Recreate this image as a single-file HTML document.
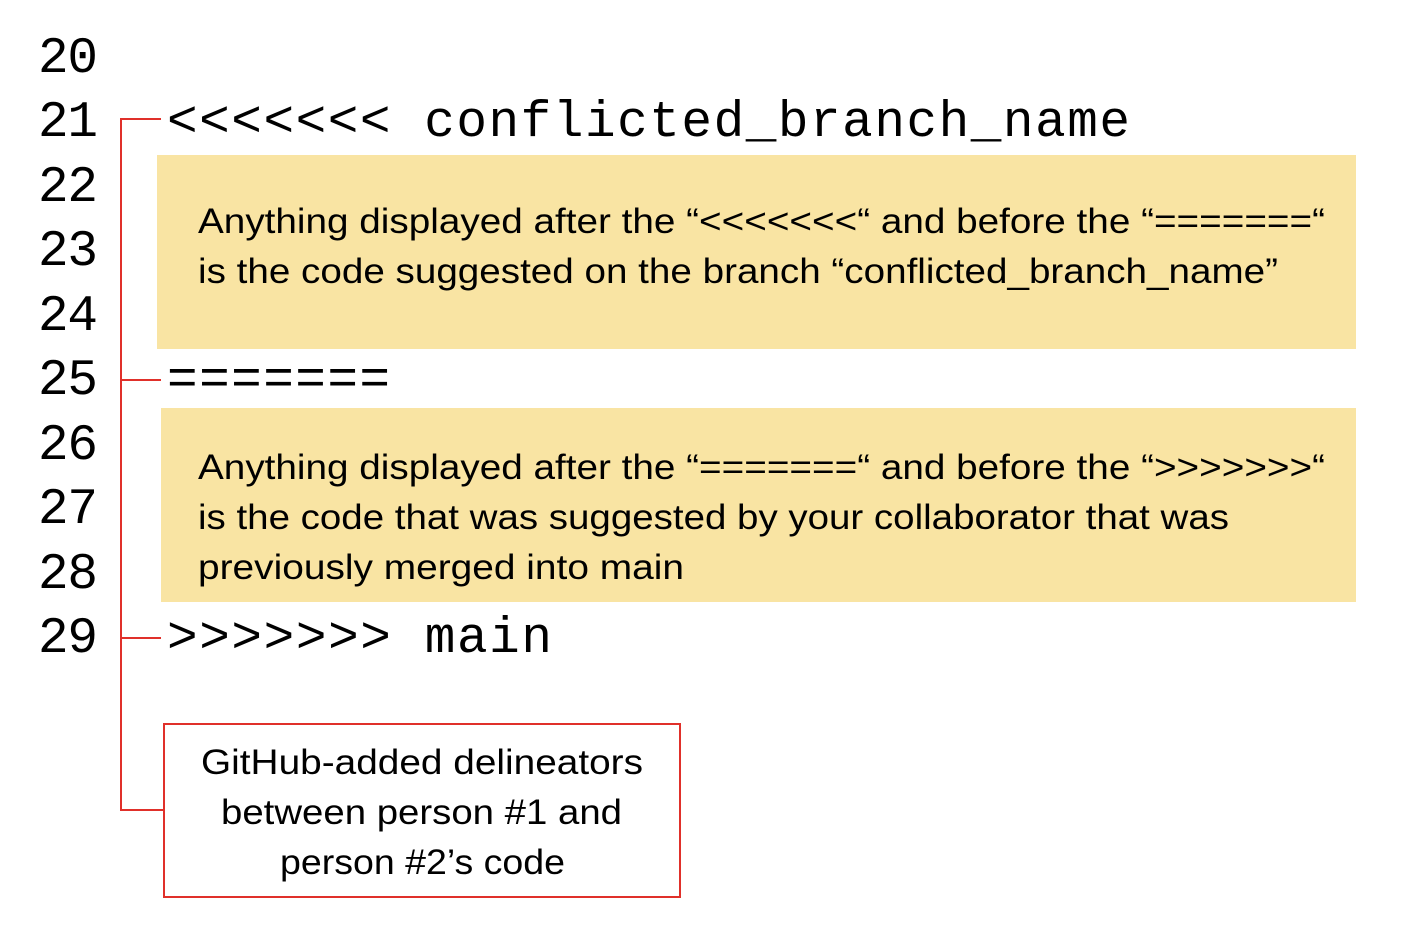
<!DOCTYPE html>
<html><head><meta charset="utf-8"><style>
html,body{margin:0;padding:0;background:#fff;}
svg{display:block;}
.m{font-family:"Liberation Mono",monospace;font-size:51px;fill:#000;}
.s{font-family:"Liberation Sans",sans-serif;font-size:35px;fill:#000;}
</style></head><body>
<svg width="1408" height="938" viewBox="0 0 1408 938" xmlns="http://www.w3.org/2000/svg">
<rect x="157" y="155" width="1199" height="194" fill="#f9e4a3"/>
<rect x="161" y="408" width="1195" height="194" fill="#f9e4a3"/>
<g class="m">
<text x="38" y="72" textLength="60" lengthAdjust="spacing">20</text>
<text x="38" y="136" textLength="60" lengthAdjust="spacing">21</text>
<text x="38" y="201" textLength="60" lengthAdjust="spacing">22</text>
<text x="38" y="265" textLength="60" lengthAdjust="spacing">23</text>
<text x="38" y="330" textLength="60" lengthAdjust="spacing">24</text>
<text x="38" y="394" textLength="60" lengthAdjust="spacing">25</text>
<text x="38" y="459" textLength="60" lengthAdjust="spacing">26</text>
<text x="38" y="523" textLength="60" lengthAdjust="spacing">27</text>
<text x="38" y="588" textLength="60" lengthAdjust="spacing">28</text>
<text x="38" y="652" textLength="60" lengthAdjust="spacing">29</text>
<text x="167" y="136" textLength="963" lengthAdjust="spacing">&lt;&lt;&lt;&lt;&lt;&lt;&lt; conflicted_branch_name</text>
<text x="167" y="394" textLength="223" lengthAdjust="spacing">=======</text>
<text x="167" y="652" textLength="385" lengthAdjust="spacing">&gt;&gt;&gt;&gt;&gt;&gt;&gt; main</text>
</g>
<g fill="none" stroke="#e0302a" stroke-width="2">
<path d="M161 119 H121 V810 H164"/>
<path d="M121 380 H161"/>
<path d="M121 638 H161"/>
<rect x="164" y="724" width="516" height="173"/>
</g>
<g class="s">
<text x="198" y="233" textLength="1127" lengthAdjust="spacingAndGlyphs">Anything displayed after the “&lt;&lt;&lt;&lt;&lt;&lt;&lt;“ and before the “=======“</text>
<text x="198" y="283" textLength="1080" lengthAdjust="spacingAndGlyphs">is the code suggested on the branch “conflicted_branch_name”</text>
<text x="198" y="479" textLength="1127" lengthAdjust="spacingAndGlyphs">Anything displayed after the “=======“ and before the “&gt;&gt;&gt;&gt;&gt;&gt;&gt;“</text>
<text x="198" y="529" textLength="1031" lengthAdjust="spacingAndGlyphs">is the code that was suggested by your collaborator that was</text>
<text x="198" y="579" textLength="486" lengthAdjust="spacingAndGlyphs">previously merged into main</text>
<text x="201" y="774" textLength="442" lengthAdjust="spacingAndGlyphs">GitHub-added delineators</text>
<text x="221" y="824" textLength="401" lengthAdjust="spacingAndGlyphs">between person #1 and</text>
<text x="280" y="874" textLength="285" lengthAdjust="spacingAndGlyphs">person #2’s code</text>
</g>
</svg>
</body></html>
